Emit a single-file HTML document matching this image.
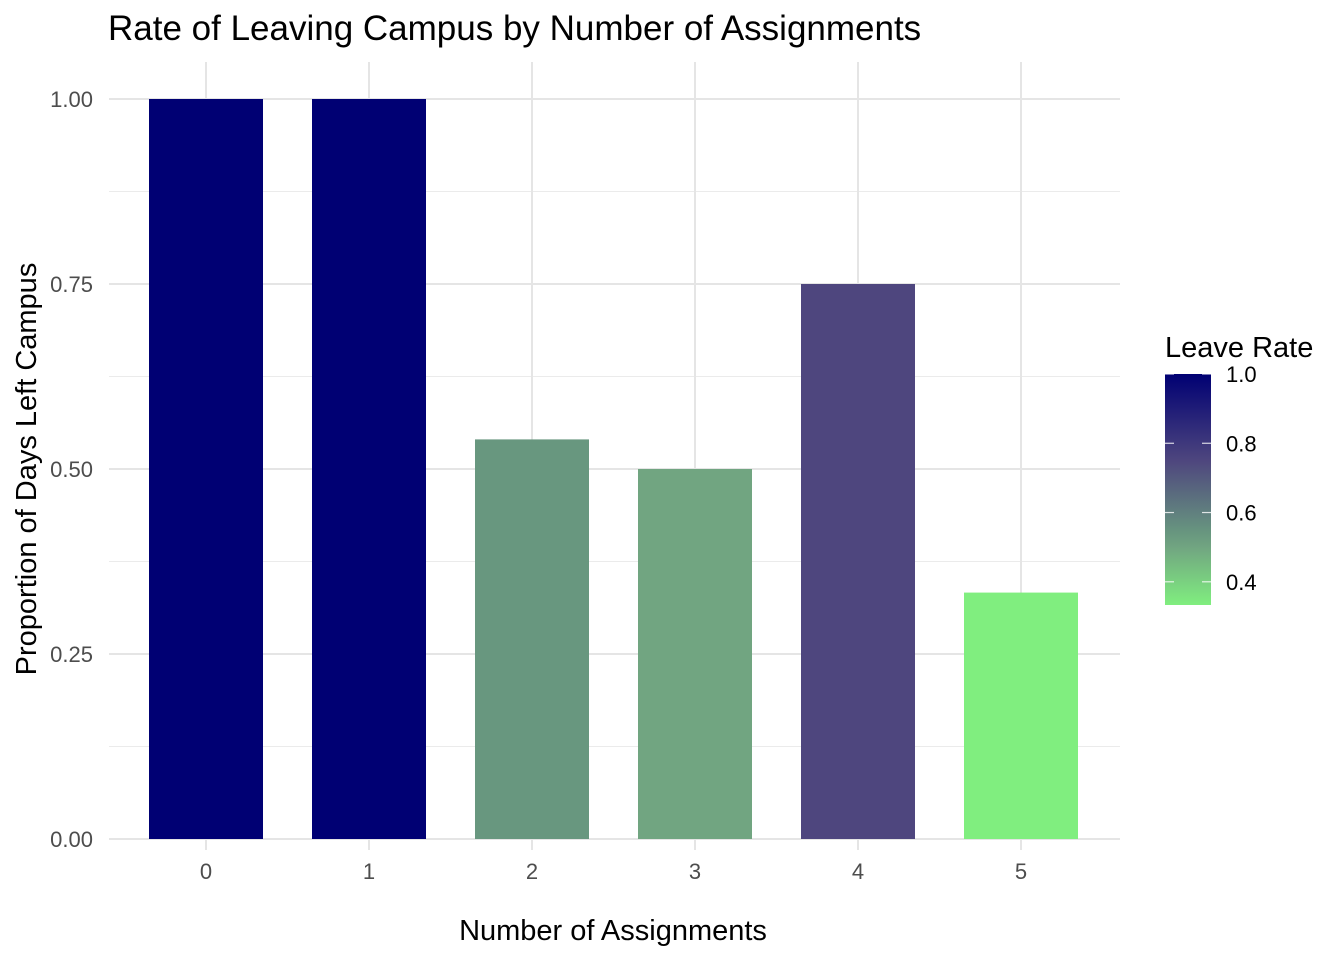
<!DOCTYPE html>
<html><head><meta charset="utf-8"><style>
body{margin:0;background:#fff;}
svg text{font-family:"Liberation Sans",Arial,sans-serif;}
</style></head><body>
<svg id="chart" width="1344" height="960" xmlns="http://www.w3.org/2000/svg">
<defs><linearGradient id="lg" x1="0" y1="1" x2="0" y2="0">
<stop offset="0" stop-color="#80EE7F"/><stop offset="0.25" stop-color="#71A581"/><stop offset="0.31" stop-color="#68977F"/><stop offset="0.625" stop-color="#4E467E"/><stop offset="1" stop-color="#000073"/>
</linearGradient></defs>
<text x="108" y="40" font-size="35" fill="#000">Rate of Leaving Campus by Number of Assignments</text>
<g id="grid"></g><g id="bars"></g><g id="axes"></g>
<text x="613" y="940" font-size="29" text-anchor="middle" fill="#000">Number of Assignments</text>
<text transform="translate(36,469) rotate(-90)" font-size="29" text-anchor="middle" fill="#000">Proportion of Days Left Campus</text>
<g>
<text x="1165" y="357" font-size="29" fill="#000">Leave Rate</text>
<rect x="1165" y="374" width="46" height="231" fill="url(#lg)"/>
<g id="legticks"></g>
</g>
</svg>
<script>
const categories=["0","1","2","3","4","5"];
const values=[1.0,1.0,0.54,0.5,0.75,0.333];
const yTicks=[0,0.25,0.5,0.75,1.0];
const yTickLabels=["0.00","0.25","0.50","0.75","1.00"];
const legendTicks=[0.4,0.6,0.8,1.0];
const legendLabels=["0.4","0.6","0.8","1.0"];
const NS="http://www.w3.org/2000/svg";
function mk(t,a,p){const e=document.createElementNS(NS,t);for(const k in a)e.setAttribute(k,a[k]);p.appendChild(e);return e;}
const y=v=>839-v*740;
const x=i=>206+i*163;
const bw=114;
const lMin=0.333,lMax=1.0;
const ly=v=>605-(v-lMin)/(lMax-lMin)*231;
const stops=[[0.333,[0x80,0xEE,0x7F]],[0.5,[0x71,0xA5,0x81]],[0.54,[0x68,0x97,0x7F]],[0.75,[0x4E,0x46,0x7E]],[1.0,[0,0,0x73]]];
function color(v){for(let i=0;i<stops.length-1;i++){const[a,ca]=stops[i],[b,cb]=stops[i+1];if(v<=b||i==stops.length-2){const t=Math.max(0,Math.min(1,(v-a)/(b-a)));return"rgb("+ca.map((c,j)=>Math.round(c+(cb[j]-c)*t)).join(",")+")";}}}
const g=document.getElementById("grid"),bars=document.getElementById("bars"),ax=document.getElementById("axes"),lt=document.getElementById("legticks");
for(let k=0;k<yTicks.length-1;k++){const m=(yTicks[k]+yTicks[k+1])/2;
const l=mk("line",{x1:109,x2:1120,y1:y(m),y2:y(m),stroke:"#ebebeb","stroke-width":1},g);

}
yTicks.forEach((v,k)=>{const l=mk("line",{x1:109,x2:1120,y1:y(v),y2:y(v),stroke:"#e5e5e5","stroke-width":2},g);


const t=mk("text",{x:93,y:y(v)+8,"font-size":22,"text-anchor":"end",fill:"#4d4d4d"},ax);t.textContent=yTickLabels[k];

});
categories.forEach((c,i)=>{const l=mk("line",{x1:x(i),x2:x(i),y1:62,y2:850,stroke:"#e5e5e5","stroke-width":2},g);


const r=mk("rect",{x:x(i)-bw/2,y:y(values[i]),width:bw,height:y(0)-y(values[i]),fill:color(values[i])},bars);


const t=mk("text",{x:x(i),y:879,"font-size":22,"text-anchor":"middle",fill:"#4d4d4d"},ax);t.textContent=c;

});
legendTicks.forEach((v,k)=>{[1165,1202].forEach(x0=>{const l=mk("line",{x1:x0,x2:x0+9,y1:ly(v),y2:ly(v),stroke:"#fff","stroke-width":1.2,opacity:0.8},lt);

});
const t=mk("text",{x:1226,y:ly(v)+8,"font-size":22,fill:"#000"},lt);t.textContent=legendLabels[k];

});
</script>
</body></html>
